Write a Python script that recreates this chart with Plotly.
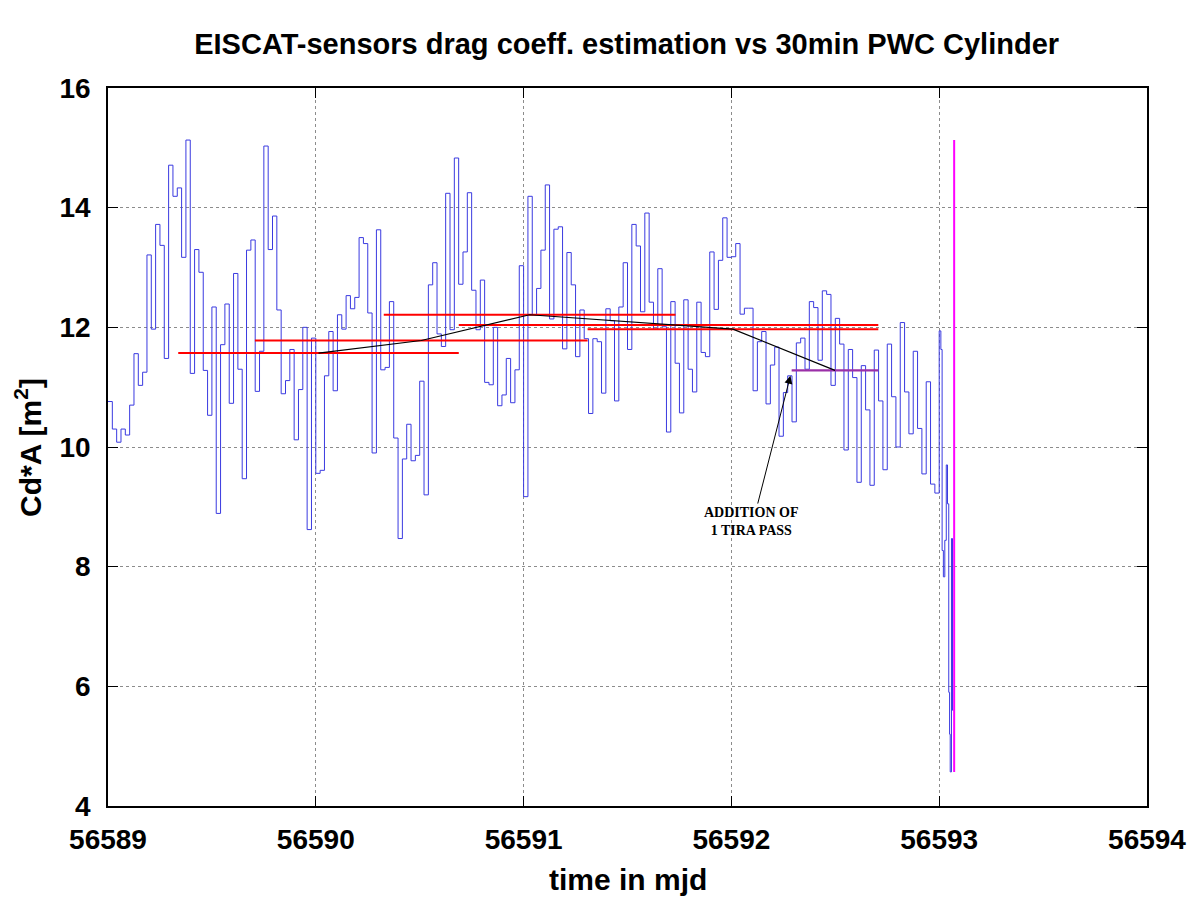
import numpy as np
import plotly.graph_objects as go

# --- 30 min Cd*A estimates (one value per half hour, one list per day) ---
T0 = 56589.0
STEP = 1.0 / 48  # 30 min in days

cda_day1 = [10.76, 10.30, 10.08, 10.30, 10.20, 10.70, 11.56, 11.03, 11.25, 13.21,
            11.97, 13.72, 13.37, 11.48, 14.71, 14.19, 14.33, 13.17, 15.13, 11.23,
            13.30, 12.92, 11.28, 10.53, 12.34, 8.89, 11.71, 12.39, 10.73, 12.90,
            11.30, 9.47, 13.29, 13.46, 10.93, 11.60, 15.03, 13.30, 13.86, 12.29,
            10.89, 11.11, 11.63, 10.12, 10.96, 12.00, 8.62, 11.82]
cda_day2 = [9.56, 9.61, 11.19, 11.93, 10.94, 12.21, 11.97, 12.53, 12.31, 12.50,
            13.50, 13.40, 12.24, 9.90, 13.63, 11.29, 11.33, 12.43, 10.15, 8.47,
            9.80, 10.38, 9.77, 9.86, 11.10, 9.20, 12.71, 13.08, 11.89, 11.68,
            14.24, 11.96, 14.83, 12.72, 13.26, 14.25, 12.62, 11.96, 12.79, 11.08,
            11.04, 12.00, 10.69, 10.87, 11.48, 10.74, 11.29, 13.03]
cda_day3 = [9.17, 14.19, 12.21, 12.65, 13.29, 14.38, 12.14, 13.64, 13.68, 11.64,
            13.25, 12.71, 11.51, 12.29, 11.81, 10.56, 11.81, 11.76, 10.90, 12.31,
            12.11, 10.77, 12.34, 13.08, 11.63, 13.72, 13.36, 12.26, 13.91, 12.42,
            11.97, 12.98, 12.01, 10.25, 12.43, 11.40, 10.57, 12.46, 11.30, 10.92,
            12.42, 11.58, 11.51, 13.26, 12.30, 13.12, 13.83, 13.17]
cda_day4 = [13.18, 13.40, 12.22, 12.32, 12.32, 10.94, 11.76, 11.93, 10.72, 11.37,
            11.67, 10.18, 10.91, 11.19, 10.42, 11.74, 11.82, 11.30, 12.43, 12.33,
            11.45, 12.61, 12.55, 11.03, 12.15, 11.72, 9.95, 11.63, 11.16, 9.41,
            11.36, 10.62, 9.36, 11.62, 10.77, 9.62, 11.72, 10.84, 10.00, 12.08,
            10.92, 10.22, 11.60, 10.31, 9.55, 11.09, 9.38, 9.23]

# last, denser samples before re-entry
tail_mjd = [56593.000, 56593.008, 56593.014, 56593.020, 56593.027, 56593.034,
            56593.040, 56593.046, 56593.050, 56593.053, 56593.059, 56593.064]
tail_cda = [11.94, 11.63, 8.27, 7.83, 8.44, 9.70, 9.05, 5.90, 5.20, 4.57, 8.47, 5.60]
tail_end = 56593.068

# --- PWC cylinder fits (red) and the one with the extra TIRA pass (purple) ---
fit_start = [56589.338, 56589.707, 56590.327, 56590.688, 56591.308]
fit_end = [56590.688, 56591.308, 56591.731, 56592.707, 56592.707]
fit_cda = [11.57, 11.78, 12.21, 12.04, 11.97]

tira_start = 56592.290
tira_end = 56592.707
tira_cda = 11.28

# re-entry marker
reentry_mjd = 56593.072
reentry_lo, reentry_hi = 4.57, 15.13

# annotation
note_text = "ADDITION OF<br>1 TIRA PASS"
note_mjd, note_cda = 56592.096, 8.76
arrow_tail = (56592.125, 9.03)
arrow_head = (56592.284, 11.19)

# build the step series
regular = cda_day1 + cda_day2 + cda_day3 + cda_day4
reg_mjd = T0 + np.arange(len(regular)) * STEP
x_steps = list(reg_mjd) + tail_mjd + [tail_end]
y_steps = regular + tail_cda + [tail_cda[-1]]

fig = go.Figure()

fig.add_trace(go.Scatter(x=x_steps, y=y_steps, mode='lines', line_shape='hv',
                         line=dict(color='#3a3ae0', width=1), showlegend=False))

# red fit segments
rx, ry = [], []
for s, e, v in zip(fit_start, fit_end, fit_cda):
    rx += [s, e, None]
    ry += [v, v, None]
fig.add_trace(go.Scatter(x=rx, y=ry, mode='lines',
                         line=dict(color='#ff0000', width=2), showlegend=False))

fig.add_trace(go.Scatter(x=[tira_start, tira_end], y=[tira_cda, tira_cda], mode='lines',
                         line=dict(color='#9b30a8', width=2.2), showlegend=False))

# black line through segment midpoints
mids = sorted([((s + e) / 2, v) for s, e, v in zip(fit_start, fit_end, fit_cda)]
              + [((tira_start + tira_end) / 2, tira_cda)])
fig.add_trace(go.Scatter(x=[m[0] for m in mids], y=[m[1] for m in mids], mode='lines',
                         line=dict(color='black', width=1.2), showlegend=False))

fig.add_trace(go.Scatter(x=[reentry_mjd, reentry_mjd], y=[reentry_lo, reentry_hi], mode='lines',
                         line=dict(color='#ff00ff', width=2), showlegend=False))

fig.add_annotation(x=arrow_head[0], y=arrow_head[1], ax=arrow_tail[0], ay=arrow_tail[1],
                   xref='x', yref='y', axref='x', ayref='y', text='',
                   showarrow=True, arrowhead=2, arrowsize=1.6, arrowwidth=1, arrowcolor='black')
fig.add_annotation(x=note_mjd, y=note_cda, xref='x', yref='y', text=note_text, showarrow=False,
                   font=dict(family='Liberation Serif', size=14, color='black', weight='bold'),
                   align='center')

# axis titles placed like gnuplot
fig.add_annotation(x=0.5, y=-0.103, xref='paper', yref='paper', text='time in mjd', showarrow=False,
                   xanchor='center', yanchor='middle',
                   font=dict(family='Liberation Sans', size=30, color='black', weight='bold'))
fig.add_annotation(x=-0.077, y=0.5, xref='paper', yref='paper', text='Cd*A [m<sup>2</sup>]',
                   showarrow=False, textangle=-90, xanchor='center', yanchor='middle',
                   font=dict(family='Liberation Sans', size=30, color='black', weight='bold'))

axis_common = dict(showline=True, linecolor='black', linewidth=1.5, mirror='allticks',
                   ticks='inside', ticklen=10, tickwidth=1, tickcolor='black',
                   showgrid=True, gridcolor='#8c8c8c', griddash='dot', gridwidth=1,
                   zeroline=False,
                   tickfont=dict(family='Liberation Sans', size=28, color='black', weight='bold'))

fig.update_xaxes(range=[56589, 56594], dtick=1, tickformat='d', ticklabelstandoff=8, **axis_common)
fig.update_yaxes(range=[4, 16], dtick=2, ticklabelstandoff=10, **axis_common)

# page body adds 8 px, so the figure is a bit smaller than the window
fig.update_layout(
    width=1192, height=892,
    margin=dict(l=100, r=53, t=80, b=94),
    plot_bgcolor='white', paper_bgcolor='white',
    title=dict(text='EISCAT-sensors drag coeff. estimation vs 30min PWC Cylinder',
               x=0.519, xanchor='center', y=0.9596, yanchor='middle', yref='container',
               font=dict(family='Liberation Sans', size=29, color='black', weight='bold')),
)

fig.write_html("out.html")
